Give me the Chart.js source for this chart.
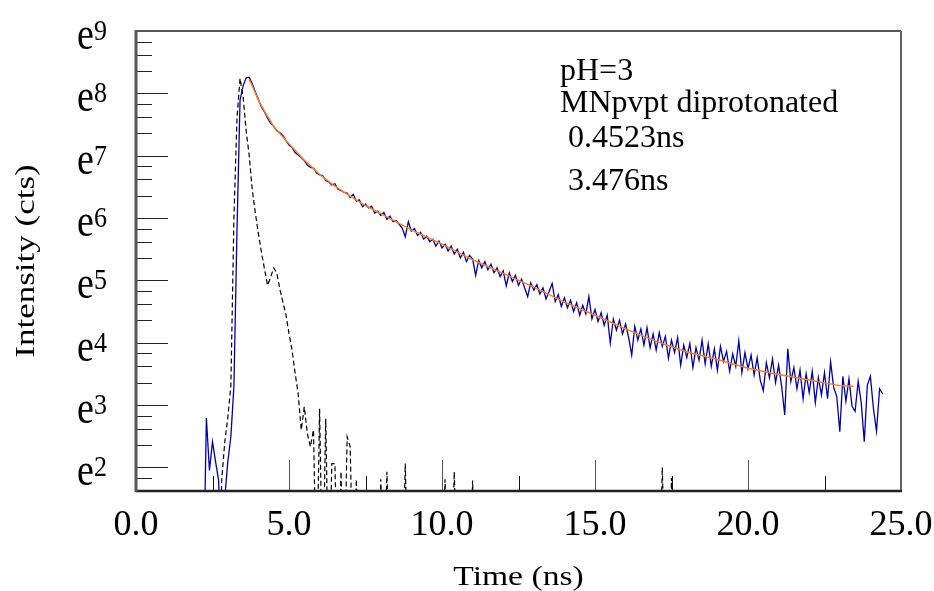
<!DOCTYPE html>
<html>
<head>
<meta charset="utf-8">
<script src="https://cdn.jsdelivr.net/npm/chart.js@4/dist/chart.umd.min.js"></script>
<style>
  html, body { margin: 0; padding: 0; background: #fff; }
</style>
</head>
<body>
<canvas id="decayChart" width="934" height="591"></canvas>
<script>
// decay channel grid (ns)
const decayStart = 2.2
const decayStep = 0.1
// ln(counts) of the measured decay, one value per channel
const decayLn = [
  0, 2.79, 1.95, 2.41, 2.09, 1.79, 0, 1.5, 2.09, 2.49,
  3.3, 5.8, 7.89, 8.12, 8.25, 8.26, 8.15, 8.02, 7.90, 7.78,
  7.70, 7.60, 7.52, 7.47, 7.40, 7.37, 7.32, 7.24, 7.17, 7.13,
  7.05, 7.01, 6.97, 6.92, 6.85, 6.81, 6.80, 6.72, 6.69, 6.68,
  6.60, 6.58, 6.53, 6.55, 6.46, 6.44, 6.41, 6.40, 6.33, 6.38,
  6.27, 6.29, 6.18, 6.22, 6.16, 6.19, 6.08, 6.11, 6.04, 6.09,
  5.98, 6.03, 5.94, 5.96, 5.90, 5.84, 5.70, 5.94, 5.79, 5.83,
  5.72, 5.77, 5.66, 5.71, 5.62, 5.66, 5.55, 5.63, 5.52, 5.58,
  5.47, 5.55, 5.42, 5.50, 5.36, 5.45, 5.30, 5.40, 5.34, 5.08,
  5.32, 5.20, 5.30, 5.17, 5.26, 5.12, 5.20, 5.06, 5.15, 4.91,
  5.12, 4.98, 5.08, 4.92, 5.02, 4.88, 4.74, 4.96, 4.84, 4.93,
  4.78, 4.88, 4.70, 4.82, 4.95, 4.66, 4.77, 4.58, 4.72, 4.56,
  4.68, 4.50, 4.64, 4.44, 4.60, 4.46, 4.74, 4.38, 4.53, 4.34,
  4.48, 4.28, 4.44, 3.99, 4.38, 4.20, 4.36, 4.14, 4.30, 4.08,
  3.80, 4.26, 4.04, 4.22, 3.96, 4.24, 3.92, 4.14, 3.88, 4.16,
  3.94, 4.10, 3.75, 4.04, 3.84, 4.08, 3.64, 3.96, 3.76, 3.99,
  3.60, 3.92, 3.72, 4.04, 3.66, 3.98, 3.62, 3.90, 3.56, 3.94,
  3.70, 3.86, 3.54, 3.82, 3.62, 4.03, 3.52, 3.84, 3.58, 3.80,
  3.48, 3.76, 3.40, 3.23, 3.68, 3.44, 3.74, 3.36, 3.64, 3.30,
  2.84, 3.90, 3.38, 3.60, 3.26, 3.56, 3.10, 3.50, 3.20, 3.54,
  3.04, 3.44, 3.16, 3.52, 3.10, 3.69, 3.28, 3.14, 2.57, 3.46,
  3.06, 3.42, 2.98, 2.90, 3.38, 3.04, 2.41, 3.32, 3.46, 2.94,
  2.58, 3.26, 3.18
]

// instrument response, ln(counts); 0 = empty channel
const irfStart = 2.6
const irfStep = 0.1
const irfLn = [
  0, 0, 1.79, 2.40, 2.80, 3.30, 6.00, 7.60, 8.24, 7.95,
  7.40, 7.00, 6.45, 6.08, 5.75, 5.45, 5.18, 4.92, 5.05, 5.20,
  5.12, 4.86, 4.65, 4.45, 4.15, 3.88, 3.51, 3.18, 2.60, 2.97,
  2.54, 2.33, 2.60, 0, 2.94, 0, 2.78, 0, 2.06, 2.06,
  0, 1.93, 0, 2.49, 2.33, 0, 1.81, 0, 0, 0,
  0, 0, 0, 0, 1.81, 0, 1.93, 0, 0, 0,
  0, 0, 2.06, 0, 0, 0, 0, 0, 0, 0,
  0, 0, 0, 0, 0, 1.81, 0, 0, 1.93, 0,
  0, 0, 0, 0, 1.79, 0, 0, 0, 0, 0,
  0, 0, 0, 0, 0, 0, 0, 0, 0, 0,
  0, 0, 0, 0, 0, 0, 0, 0, 0, 0,
  0, 0, 0, 0, 0, 0, 0, 0, 0, 0,
  0, 0, 0, 0, 0, 0, 0, 0, 0, 0,
  0, 0, 0, 0, 0, 0, 0, 0, 0, 0,
  0, 0, 0, 0, 0, 0, 2.00, 0, 0, 1.83,
  0
]

// two-exponential fit
const fitTime = [3.7, 3.8, 4.0, 4.25, 4.5, 4.8, 5.0, 5.5, 6.0, 6.5, 7.0, 7.5, 8.0, 9.0, 10, 11, 12, 13, 14, 15, 16, 17, 18, 19, 20, 21, 22, 23, 23.45]
const fitLn = [8.22, 8.12, 7.89, 7.67, 7.47, 7.30, 7.19, 6.93, 6.70, 6.51, 6.35, 6.20, 6.07, 5.81, 5.58, 5.33, 5.11, 4.89, 4.65, 4.44, 4.22, 4.02, 3.85, 3.73, 3.59, 3.49, 3.40, 3.31, 3.30]

const xTickValues = [0, 5, 10, 15, 20, 25]
const xTickLabels = ['0.0', '5.0', '10.0', '15.0', '20.0', '25.0']
const yTickPowers = [2, 3, 4, 5, 6, 7, 8, 9]
const noteLines = ['pH=3', 'MNpvpt diprotonated', ' 0.4523ns', ' 3.476ns']

const serif = '"Liberation Serif", "Times New Roman", serif'

const toPoints = (start, step, arr) => arr.map((v, i) => ({ x: +(start + i * step).toFixed(2), y: v }))

// text with its own x / y stretch
const stretchText = (ctx, s, x, y, sx, sy) => {
  ctx.save()
  ctx.translate(x, y)
  ctx.scale(sx, sy)
  ctx.fillText(s, 0, 0)
  ctx.restore()
}

const framePlugin = {
  id: 'frame',
  afterDraw(chart) {
    const { ctx, chartArea: a, scales: { x, y } } = chart
    const line = (x1, y1, x2, y2) => {
      ctx.beginPath()
      ctx.moveTo(x1, y1)
      ctx.lineTo(x2, y2)
      ctx.stroke()
    }
    ctx.save()

    // y ticks: major at e^n, minor at quarter steps between e^n and e^(n+1)
    ctx.strokeStyle = '#222'
    ctx.lineWidth = 1
    for (let n = 1; n <= 8; n++) {
      const lo = Math.exp(n), hi = Math.exp(n + 1)
      for (let k = 0; k < 4; k++) {
        const v = Math.log(lo + k * (hi - lo) / 4)
        if (v < y.min - 1e-6 || v > y.max + 1e-6) continue
        const py = Math.round(y.getPixelForValue(v)) + 0.5
        line(a.left, py, a.left + (k === 0 ? 32 : 16), py)
      }
    }

    // x ticks
    for (let t = 0; t <= 25; t += 2.5) {
      const px = Math.round(x.getPixelForValue(t)) + 0.5
      const major = t % 5 === 0
      ctx.strokeStyle = major ? '#555' : '#111'
      line(px, a.bottom, px, a.bottom - (major ? 31 : 15))
    }

    // frame
    ctx.strokeStyle = '#555'
    ctx.lineWidth = 2
    line(a.left, a.top, a.right, a.top)
    ctx.strokeStyle = '#666'
    line(a.right, a.top, a.right, a.bottom)
    ctx.strokeStyle = '#222'
    ctx.lineWidth = 2.5
    line(a.left, a.bottom, a.right + 1, a.bottom)
    ctx.strokeStyle = '#555'
    ctx.lineWidth = 3
    line(a.left, a.top - 1, a.left, a.bottom + 1)

    ctx.fillStyle = '#000'
    // x tick labels
    ctx.font = '36px ' + serif
    ctx.textAlign = 'center'
    ctx.textBaseline = 'alphabetic'
    xTickValues.forEach((v, i) => {
      ctx.fillText(xTickLabels[i], x.getPixelForValue(v), a.bottom + 44)
    })

    // y tick labels e^n
    ctx.textAlign = 'left'
    yTickPowers.forEach(n => {
      const py = y.getPixelForValue(n)
      ctx.font = '38px ' + serif
      stretchText(ctx, 'e', 77, py + 18, 1, 1.22)
      ctx.font = '26px ' + serif
      stretchText(ctx, String(n), 94, py + 9, 1, 1.15)
    })

    // axis titles
    ctx.font = '28px ' + serif
    ctx.textAlign = 'center'
    stretchText(ctx, 'Time (ns)', (a.left + a.right) / 2, 585, 1.2, 1)
    ctx.save()
    ctx.translate(34, (a.top + a.bottom) / 2)
    ctx.rotate(-Math.PI / 2)
    stretchText(ctx, 'Intensity (cts)', 0, 0, 1.25, 1)
    ctx.restore()

    // note
    ctx.font = '32px ' + serif
    ctx.textAlign = 'left'
    const baselines = [80, 112, 147, 190]
    noteLines.forEach((s, i) => ctx.fillText(s, 560, baselines[i]))

    ctx.restore()
  }
}

new Chart(document.getElementById('decayChart'), {
  type: 'line',
  data: {
    datasets: [
      {
        label: 'fit',
        data: fitTime.map((t, i) => ({ x: t, y: fitLn[i] })),
        borderColor: '#ff7f10',
        borderWidth: 1.4,
        pointRadius: 0,
        tension: 0
      },
      {
        label: 'decay',
        data: toPoints(decayStart, decayStep, decayLn),
        borderColor: '#0000a8',
        borderWidth: 1.3,
        pointRadius: 0,
        tension: 0
      },
      {
        label: 'IRF',
        data: toPoints(irfStart, irfStep, irfLn),
        borderColor: '#000',
        borderWidth: 1.2,
        borderDash: [5, 3],
        pointRadius: 0,
        tension: 0
      }
    ]
  },
  options: {
    responsive: false,
    animation: false,
    layout: { padding: { top: 31, right: 33, left: 0, bottom: 0 } },
    plugins: { legend: { display: false }, tooltip: { enabled: false } },
    scales: {
      x: {
        type: 'linear',
        min: 0,
        max: 25,
        ticks: { display: false },
        grid: { display: false },
        border: { display: false },
        afterFit: s => { s.height = 100 }
      },
      y: {
        type: 'linear',
        min: Math.log((Math.E + Math.E * Math.E) / 2),
        max: 9,
        ticks: { display: false },
        grid: { display: false },
        border: { display: false },
        afterFit: s => { s.width = 136 }
      }
    }
  },
  plugins: [framePlugin]
})
</script>
</body>
</html>
